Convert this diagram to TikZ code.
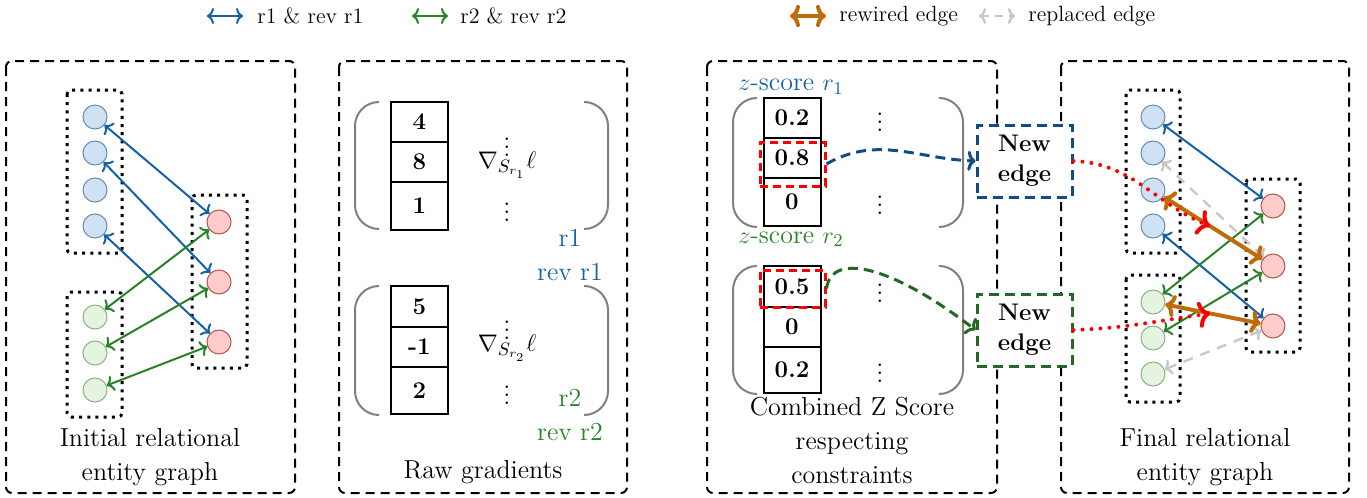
\documentclass[tikz,border=0pt]{standalone}
\usepackage{amsmath}
\usepackage{amssymb}
\usepackage{xcolor}
\usetikzlibrary{arrows, arrows.meta}

\definecolor{relblue}{RGB}{20,98,166}
\definecolor{relgreen}{RGB}{40,130,40}
\definecolor{rewired}{RGB}{190,108,8}
\definecolor{replaced}{RGB}{200,200,200}
\definecolor{boxblue}{RGB}{18,76,128}
\definecolor{boxgreen}{RGB}{36,104,36}
\definecolor{parengray}{RGB}{128,128,128}
\definecolor{bluefill}{RGB}{207,226,243}
\definecolor{blueline}{RGB}{100,140,180}
\definecolor{greenfill}{RGB}{228,244,224}
\definecolor{greenline}{RGB}{140,178,130}
\definecolor{redfill}{RGB}{255,204,204}
\definecolor{redline}{RGB}{184,84,80}

\begin{document}
\begin{tikzpicture}[x=0.5pt,y=-0.5pt,
  every node/.style={font=\fontsize{13}{17}\selectfont},
  legend/.style={anchor=west, inner sep=0pt, font=\fontsize{11}{13}\selectfont},
  panel/.style={draw, line width=1pt, dash pattern=on 4.5pt off 3pt, rounded corners=3pt},
  group/.style={draw, line width=1.5pt, dash pattern=on 1.5pt off 2.6pt, rounded corners=2pt},
  paren/.style={draw=parengray, line width=1pt, rounded corners=12pt},
  ent/.style={circle, minimum size=12pt, inner sep=0pt, line width=0.5pt},
  bent/.style={ent, draw=blueline, fill=bluefill},
  gent/.style={ent, draw=greenline, fill=greenfill},
  rent/.style={ent, draw=redline, fill=redfill},
  relone/.style={draw=relblue, line width=1pt, >={Computer Modern Rightarrow[width=8pt,length=3.5pt]}, <->},
  reltwo/.style={draw=relgreen, line width=1pt, >={Computer Modern Rightarrow[width=8pt,length=3.5pt]}, <->},
  rewire/.style={draw=rewired, line width=2pt, >={Computer Modern Rightarrow[width=11pt,length=5pt]}, <->},
  replace/.style={draw=replaced, line width=1.2pt, dash pattern=on 5pt off 4pt, >={Computer Modern Rightarrow[width=8pt,length=3.5pt]}, <->},
  cell/.style={draw, line width=1pt, minimum width=28.5pt, inner sep=0pt, font=\fontsize{12}{14}\selectfont\bfseries},
  pick/.style={draw=red, line width=1.5pt, dash pattern=on 4pt off 2.5pt, inner sep=0pt},
  newedge/.style={draw, fill=white, line width=1.5pt, dash pattern=on 5pt off 3pt, minimum width=47.5pt, minimum height=36pt, align=center, font=\fontsize{12}{15}\selectfont\bfseries},
  hint/.style={draw=red, line width=2pt, dash pattern=on 0pt off 4.5pt, line cap=round, >={Computer Modern Rightarrow[width=13pt,length=6pt]}, ->}
]
\useasboundingbox (0,0) rectangle (1367,498);

% legend
\coordinate (la1) at (207,16); \coordinate (lb1) at (243,16);
\coordinate (la2) at (412,16); \coordinate (lb2) at (448,16);
\coordinate (la3) at (790,16); \coordinate (lb3) at (826,16);
\coordinate (la4) at (979,16); \coordinate (lb4) at (1015,16);
\draw[relone] (la1) -- (lb1);
\draw[reltwo] (la2) -- (lb2);
\draw[rewire] (la3) -- (lb3);
\draw[replace, dash pattern=on 4pt off 3pt] (la4) -- (lb4);
\node[legend] (lt1) at (257,16) {r1 \& rev r1};
\node[legend] (lt2) at (460,16) {r2 \& rev r2};
\node[legend] (lt3) at (839,16) {rewired edge};
\node[legend] (lt4) at (1028,16) {replaced edge};

% panels
\draw[panel] (6,61) rectangle (295,493);
\draw[panel] (339,61) rectangle (627,493);
\draw[panel] (707,61) rectangle (997,493);
\draw[panel] (1061,61) rectangle (1349,493);

%%% initial graph
\draw[group] (67,90) rectangle (122,253);
\draw[group] (67,292) rectangle (122,417);
\draw[group] (192,195) rectangle (247,368);

\node[bent] (b1) at (95,117) {};
\node[bent] (b2) at (95,153) {};
\node[bent] (b3) at (95,190) {};
\node[bent] (b4) at (95,226) {};
\node[gent] (g1) at (95,317) {};
\node[gent] (g2) at (95,353) {};
\node[gent] (g3) at (95,390) {};
\node[rent] (r1) at (219,222) {};
\node[rent] (r2) at (219,282) {};
\node[rent] (r3) at (219,342) {};

\draw[relone] (b1) -- (r1);
\draw[relone] (b2) -- (r2);
\draw[relone] (b4) -- (r3);
\draw[reltwo] (g1) -- (r1);
\draw[reltwo] (g2) -- (r2);
\draw[reltwo] (g3) -- (r3);

\node[align=center] (cap1) at (150,457) {Initial relational\\entity graph};

%%% raw gradients
\draw[paren] (379,102) -- (355,102) -- (355,229) -- (379,229);
\draw[paren] (584,102) -- (608,102) -- (608,229) -- (584,229);
\node[cell, minimum height=20pt] (ga1) at (419.5,122) {4};
\node[cell, minimum height=20pt] (ga2) at (419.5,162) {8};
\node[cell, minimum height=24pt] (ga3) at (419.5,206) {1};
\node (gd1) at (507,141) {$\vdots$};
\node (gd2) at (507,206) {$\vdots$};
\node (gl1) at (507,165) {$\nabla_{S_{r_1}}\ell$};
\node[text=relblue] (gr1) at (570,238) {r1};
\node[text=relblue] (gr1r) at (570,272) {rev r1};

\draw[paren] (379,286) -- (355,286) -- (355,415) -- (379,415);
\draw[paren] (584,286) -- (608,286) -- (608,415) -- (584,415);
\node[cell, minimum height=20.5pt] (gb1) at (419.5,306.5) {5};
\node[cell, minimum height=20pt] (gb2) at (419.5,347) {-1};
\node[cell, minimum height=23.5pt] (gb3) at (419.5,390.5) {2};
\node (gd3) at (507,324) {$\vdots$};
\node (gd4) at (507,389) {$\vdots$};
\node (gl2) at (507,348) {$\nabla_{S_{r_2}}\ell$};
\node[text=relgreen] (gr2) at (570,398) {r2};
\node[text=relgreen] (gr2r) at (570,432) {rev r2};

\node (cap2) at (483,472) {Raw gradients};

%%% z scores
\node[text=relblue] (zs1) at (791,87) {$z$-score $r_1$};
\draw[paren] (757,98) -- (733,98) -- (733,227) -- (757,227);
\draw[paren] (940,98) -- (963,98) -- (963,227) -- (940,227);
\node[cell, minimum height=20pt] (za1) at (792,118) {0.2};
\node[cell, minimum height=20pt] (za2) at (792,158) {0.8};
\node[cell, minimum height=24pt] (za3) at (792,202) {0};
\node[pick, minimum width=32.5pt, minimum height=22pt] (hl1) at (792.5,164) {};
\node (zd1) at (880,116) {$\vdots$};
\node (zd2) at (880,199) {$\vdots$};

\node[text=relgreen] (zs2) at (791,239) {$z$-score $r_2$};
\draw[paren] (757,266) -- (733,266) -- (733,394) -- (757,394);
\draw[paren] (940,266) -- (963,266) -- (963,394) -- (940,394);
\node[cell, minimum height=20.5pt] (zb1) at (792,286.5) {0.5};
\node[cell, minimum height=20pt] (zb2) at (792,327) {0};
\node[cell, minimum height=23pt] (zb3) at (792,370) {0.2};
\node[pick, minimum width=32.5pt, minimum height=18.5pt] (hl2) at (792.5,288.5) {};
\node (zd3) at (880,287) {$\vdots$};
\node (zd4) at (880,367) {$\vdots$};

\node[align=center] (cap3) at (852,440) {Combined Z Score\\respecting\\constraints};

% new edges
\node[newedge, draw=boxblue] (ne1) at (1024.5,161) {New\\edge};
\node[newedge, draw=boxgreen] (ne2) at (1024.5,330) {New\\edge};
\draw[draw=boxblue, line width=1.5pt, dash pattern=on 5pt off 3pt, >={Computer Modern Rightarrow[width=10pt,length=4pt]}, ->] (hl1.east) to[out=30,in=178] (ne1.west);
\draw[draw=boxgreen, line width=1.5pt, dash pattern=on 5pt off 3pt, >={Computer Modern Rightarrow[width=10pt,length=4pt]}, ->] (hl2.east) .. controls (832,250) and (895,268) .. (ne2.west);

%%% final graph
\draw[group] (1126,90) rectangle (1180,253);
\draw[group] (1126,275) rectangle (1180,402);
\draw[group] (1246,179) rectangle (1300,352);

\node[bent] (fb1) at (1153,117) {};
\node[bent] (fb2) at (1153,153) {};
\node[bent] (fb3) at (1153,190) {};
\node[bent] (fb4) at (1153,226) {};
\node[gent] (fg1) at (1153,302) {};
\node[gent] (fg2) at (1153,338) {};
\node[gent] (fg3) at (1153,374) {};
\node[rent] (fr1) at (1273,206) {};
\node[rent] (fr2) at (1273,266) {};
\node[rent] (fr3) at (1273,326) {};

\draw[replace] (fb2) -- (fr2);
\draw[replace] (fg3) -- (fr3);
\draw[relone] (fb1) -- (fr1);
\draw[relone] (fb4) -- (fr3);
\draw[reltwo] (fg1) -- (fr1);
\draw[reltwo] (fg2) -- (fr2);
\draw[rewire] (fb3) -- coordinate[pos=0.47] (m1) (fr2);
\draw[rewire] (fg1) -- coordinate[pos=0.47] (m2) (fr3);

\draw[hint] (ne1.east) to[out=-2,in=158] (m1);
\draw[hint] (ne2.east) to[out=2,in=188] (m2);

\node[align=center] (cap4) at (1205,457) {Final relational\\entity graph};

\end{tikzpicture}
\end{document}
